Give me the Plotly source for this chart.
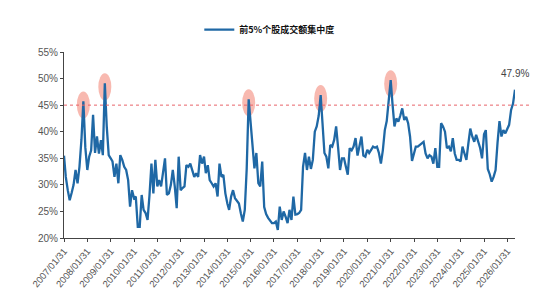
import pandas as pd
import plotly.graph_objects as go

series_name = "前5%个股成交额集中度"

values = [
    # 2007
    35.5, 31.5, 29.0, 27.1, 28.5, 30.0, 32.8, 30.3, 33.4, 38.5, 45.7, 37.0,
    # 2008
    32.8, 35.3, 36.5, 43.2, 36.0, 39.1, 35.9, 38.4, 35.6, 49.1, 41.0, 35.6,
    # 2009
    35.0, 34.4, 31.5, 34.0, 30.3, 35.6, 34.7, 33.4, 32.8, 30.9, 25.9, 29.0,
    # 2010
    27.5, 27.8, 22.1, 22.1, 28.1, 25.3, 24.7, 23.4, 28.0, 34.0, 28.4, 34.7,
    # 2011
    29.7, 30.9, 29.7, 32.0, 35.0, 28.1, 28.4, 30.0, 32.8, 29.7, 25.6, 35.3,
    # 2012
    29.0, 29.4, 29.7, 33.7, 33.4, 34.0, 32.5, 31.5, 32.2, 31.5, 35.6, 34.0,
    # 2013
    35.3, 32.2, 33.7, 30.9, 30.3, 29.7, 30.3, 27.8, 34.0, 31.5, 31.9, 28.4,
    # 2014
    26.5, 25.3, 27.8, 29.0, 27.5, 27.0, 26.5, 24.6, 23.1, 25.3, 33.0, 46.1,
    # 2015
    41.5, 37.2, 33.1, 36.0, 30.3, 29.7, 34.4, 25.8, 24.5, 23.8, 23.4, 22.8,
    # 2016
    22.8, 23.1, 21.5, 25.9, 23.4, 25.0, 24.0, 22.8, 25.3, 23.4, 27.8, 24.4,
    # 2017
    24.5, 24.7, 25.3, 33.4, 36.0, 32.8, 35.3, 33.0, 34.7, 40.0, 41.0, 43.0,
    # 2018
    46.9, 40.5, 36.0, 35.3, 33.1, 37.5, 37.2, 38.5, 41.0, 37.0, 32.8, 35.0,
    # 2019
    35.0, 33.5, 31.9, 36.9, 36.5, 37.2, 38.8, 35.5, 37.5, 39.1, 35.5, 35.3,
    # 2020
    36.6, 36.0, 36.6, 37.2, 37.0, 37.2, 36.0, 34.0, 36.5, 40.3, 42.0, 45.3,
    # 2021
    49.7, 45.3, 41.0, 42.5, 41.9, 43.0, 44.4, 42.2, 42.8, 41.6, 39.1, 34.5,
    # 2022
    36.0, 37.2, 37.2, 37.5, 37.8, 38.1, 35.9, 35.0, 35.6, 35.3, 34.0, 36.9,
    # 2023
    33.4, 33.4, 41.6, 41.0, 40.0, 36.9, 37.2, 36.3, 38.8, 35.9, 34.7, 34.7,
    # 2024
    34.4, 37.2, 35.9, 34.7, 37.8, 40.6, 39.1, 38.1, 39.4, 38.1, 37.0, 35.0,
    # 2025
    39.5, 40.3, 33.0, 32.0, 30.6, 31.5, 32.8, 38.0, 42.0, 39.1, 40.3, 39.7,
    # 2026
    40.6, 41.3, 44.1, 45.3, 47.9,
]

dates = pd.date_range("2007-01-31", periods=len(values), freq="ME")

tick_dates = pd.date_range("2007-01-31", "2026-01-31", freq="12ME")
tick_labels = [d.strftime("%Y/%m/%d") for d in tick_dates]

y_ticks = [20, 25, 30, 35, 40, 45, 50, 55]
y_tick_labels = [f"{v}%" for v in y_ticks]

threshold = 45
peak_months = ["2007-11", "2008-10", "2014-12", "2018-01", "2021-01"]
end_label = "47.9%"

s = pd.Series(values, index=dates)

fig = go.Figure()
fig.add_trace(go.Scatter(
    x=dates, y=values, mode="lines", name=series_name,
    line=dict(color="#1F68A5", width=2.3),
))

# threshold line
fig.add_shape(type="line", xref="paper", yref="y", x0=0, x1=1.033, y0=threshold, y1=threshold,
              line=dict(color="#E8646A", width=1, dash="dot"), layer="above")

# peak highlights
for pm in peak_months:
    sub = s[pm]
    d = sub.index[0]
    v = float(sub.iloc[0])
    fig.add_shape(type="circle", xref="x", yref="y", xsizemode="pixel", ysizemode="pixel",
                  xanchor=d, yanchor=v, x0=-6.5, x1=6.5, y0=-17, y1=10,
                  fillcolor="rgba(242,128,112,0.55)", line=dict(width=0), layer="below")

fig.add_annotation(x=dates[-1], y=values[-1], text=end_label, showarrow=False,
                   yshift=16, font=dict(size=10, color="#444444", family="Liberation Sans"))

fig.update_layout(
    width=554, height=308,
    margin=dict(l=64, r=39, t=52, b=70),
    paper_bgcolor="white", plot_bgcolor="white",
    showlegend=True,
    legend=dict(orientation="h", x=0.30, xanchor="left", y=1.12, yanchor="middle",
                font=dict(size=9, color="#111111", family="Noto Sans CJK SC", weight="bold"),
                bgcolor="rgba(0,0,0,0)"),
    font=dict(family="Liberation Sans", size=10, color="#555555"),
)

fig.update_xaxes(
    range=[dates[0], dates[-1]],
    tickvals=tick_dates, ticktext=tick_labels, tickangle=-50,
    showgrid=False, zeroline=False,
    showline=True, linecolor="#444444", linewidth=1,
    ticks="outside", ticklen=3, tickcolor="#444444",
    tickfont=dict(size=9.5, color="#555555"),
)
fig.update_yaxes(
    range=[20, 55], tickvals=y_ticks, ticktext=y_tick_labels,
    showgrid=False, zeroline=False,
    showline=True, linecolor="#444444", linewidth=1,
    ticks="outside", ticklen=3, tickcolor="#444444",
    tickfont=dict(size=10, color="#555555"),
)

fig.write_html("out.html")
